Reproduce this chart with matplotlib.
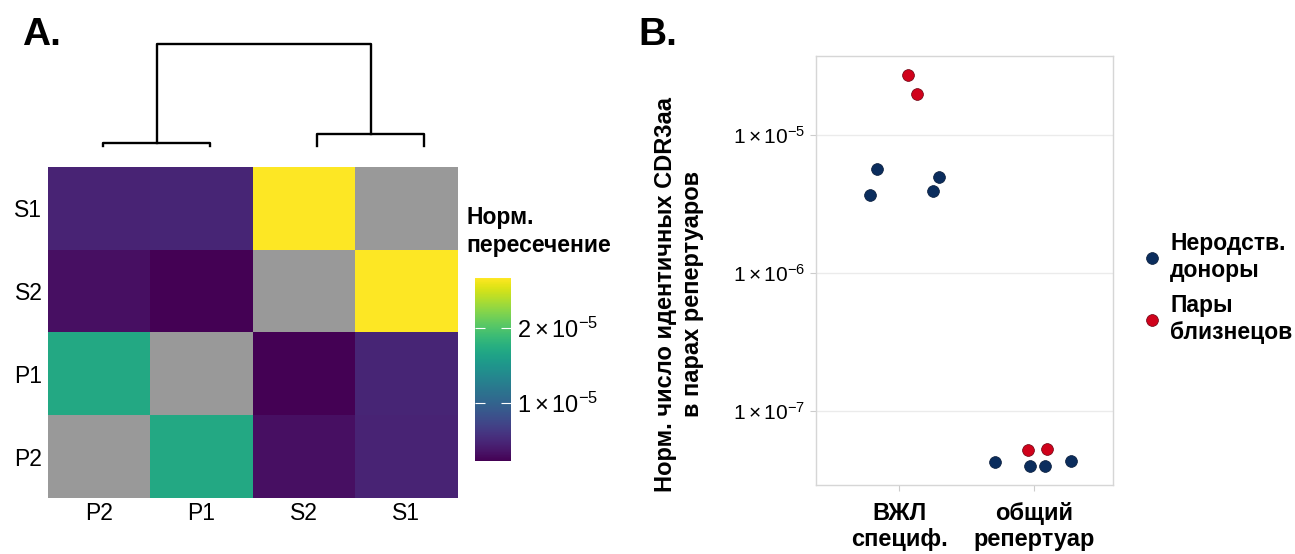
import numpy as np
import matplotlib
matplotlib.use('Agg')
import matplotlib.pyplot as plt
from matplotlib.lines import Line2D

plt.rcParams['font.family'] = ['Liberation Sans', 'DejaVu Sans']
plt.rcParams['mathtext.fontset'] = 'custom'
plt.rcParams['mathtext.rm'] = 'Liberation Sans'
plt.rcParams['mathtext.it'] = 'Liberation Sans:italic'

# ================ A: heatmap data ================
hm_cols = ['P2', 'P1', 'S2', 'S1']
hm_rows = ['S1', 'S2', 'P1', 'P2']
row_S1 = [4.70e-6, 4.80e-6, 2.67e-5, np.nan]
row_S2 = [3.25e-6, 2.27e-6, np.nan, 2.67e-5]
row_P1 = [1.70e-5, np.nan, 2.27e-6, 4.80e-6]
row_P2 = [np.nan, 1.70e-5, 3.25e-6, 4.70e-6]
cbar_ticks = [1e-5, 2e-5]
cbar_labels = [r'$1\times10^{-5}$', r'$2\times10^{-5}$']

# dendrogram merge heights (P-pair, S-pair, root)
h_pair_P = 3
h_pair_S = 12
h_root = 102

# ================ B: scatter data ================
categories = ['ВЖЛ\nспециф.', 'общий\nрепертуар']
vzhl_donors = [5.73e-6, 3.67e-6, 3.97e-6, 4.96e-6]
vzhl_donors_jit = [-0.163, -0.215, 0.252, 0.297]
vzhl_twins = [2.73e-5, 1.98e-5]
vzhl_twins_jit = [0.064, 0.133]
total_donors = [4.30e-8, 4.00e-8, 4.00e-8, 4.32e-8]
total_donors_jit = [-0.289, -0.030, 0.082, 0.274]
total_twins = [5.22e-8, 5.28e-8]
total_twins_jit = [-0.044, 0.096]

c_donor = '#0b2d5d'
c_twin = '#d0021b'

W, H = 1295, 554
fig = plt.figure(figsize=(W / 100, H / 100), dpi=100)

def px_axes(x0, y0, x1, y1):
    return fig.add_axes([x0 / W, 1 - y1 / H, (x1 - x0) / W, (y1 - y0) / H])

# ---- heatmap ----
ax_h = px_axes(48, 167, 457, 498)
mat = np.array([row_S1, row_S2, row_P1, row_P2])
cmap = plt.get_cmap('viridis').copy()
cmap.set_bad('#999999')
im = ax_h.imshow(np.ma.masked_invalid(mat), cmap=cmap, aspect='auto',
                 vmin=np.nanmin(mat), vmax=np.nanmax(mat), interpolation='nearest')
ax_h.set_xticks(range(4))
ax_h.set_xticklabels(hm_cols, fontsize=16.5)
ax_h.set_yticks(range(4))
ax_h.set_yticklabels(hm_rows, fontsize=16.5)
ax_h.tick_params(axis='x', length=0, pad=3)
ax_h.tick_params(axis='y', length=0, pad=4)
for s in ax_h.spines.values():
    s.set_visible(False)

# ---- dendrogram ----
ax_d = px_axes(49.5, 44, 477.5, 146)
ax_d.set_xlim(0, 4)
ax_d.set_ylim(0, h_root)
ax_d.axis('off')
lw = 1.7
ax_d.plot([0.5, 0.5, 1.5, 1.5], [0, h_pair_P, h_pair_P, 0], color='black', lw=lw, clip_on=False)
ax_d.plot([2.5, 2.5, 3.5, 3.5], [0, h_pair_S, h_pair_S, 0], color='black', lw=lw, clip_on=False)
ax_d.plot([1.0, 1.0, 3.0, 3.0], [h_pair_P, h_root, h_root, h_pair_S], color='black', lw=lw, clip_on=False)

# ---- colorbar ----
cax = px_axes(475, 278, 511, 461)
cb = fig.colorbar(im, cax=cax, ticks=cbar_ticks)
cb.set_ticklabels(cbar_labels)
cb.outline.set_visible(False)
cax.tick_params(axis='y', length=7, width=0.8, color='white', direction='in',
                labelsize=17, pad=4, right=True, left=True)
fig.text(466 / W, 1 - 252 / H, 'Норм.\nпересечение', fontsize=16.5, fontweight='bold',
         ha='left', va='baseline', linespacing=1.27)

# ---- panel B ----
ax_b = px_axes(816, 56, 1113, 485)
ax_b.set_yscale('log')
ax_b.set_ylim(2.91e-8, 3.76e-5)
ax_b.set_xlim(0.383, 2.585)
ax_b.scatter(np.add(1, vzhl_donors_jit), vzhl_donors, s=72, color=c_donor, edgecolor='#061a38', lw=0.5, zorder=3)
ax_b.scatter(np.add(1, vzhl_twins_jit), vzhl_twins, s=72, color=c_twin, edgecolor='#6a0010', lw=0.5, zorder=3)
ax_b.scatter(np.add(2, total_donors_jit), total_donors, s=72, color=c_donor, edgecolor='#061a38', lw=0.5, zorder=3)
ax_b.scatter(np.add(2, total_twins_jit), total_twins, s=72, color=c_twin, edgecolor='#6a0010', lw=0.5, zorder=3)
ax_b.set_yticks([1e-7, 1e-6, 1e-5])
ax_b.set_yticklabels([r'$1\times10^{-7}$', r'$1\times10^{-6}$', r'$1\times10^{-5}$'], fontsize=15)
ax_b.yaxis.set_minor_locator(matplotlib.ticker.NullLocator())
ax_b.set_xticks([1, 2])
ax_b.set_xticklabels(categories, fontsize=17, fontweight='bold', linespacing=1.2)
ax_b.tick_params(color='#cccccc', length=4, width=0.8, pad=4)
ax_b.tick_params(axis='x', pad=8)
ax_b.grid(axis='y', color='#ebebeb', lw=1)
ax_b.set_axisbelow(True)
for s in ax_b.spines.values():
    s.set_color('#d6d6d6')
    s.set_linewidth(1)
ax_b.set_ylabel('Норм. число идентичных CDR3aa\nв парах репертуаров', fontsize=17,
                fontweight='bold', linespacing=1.2)
ax_b.yaxis.set_label_coords(-0.377, 0.445)

handles = [Line2D([], [], ls='none', marker='o', ms=8.5, color=c_donor, mec='#061a38', mew=0.5),
           Line2D([], [], ls='none', marker='o', ms=8.5, color=c_twin, mec='#6a0010', mew=0.5)]
fig.legend(handles, ['Неродств.\nдоноры', 'Пары\nблизнецов'], loc='center left',
           bbox_to_anchor=(1136 / W, 1 - 288 / H), frameon=False,
           prop={'size': 16.5, 'weight': 'bold'}, handlelength=1.0, handletextpad=0.3,
           labelspacing=0.55, borderaxespad=0, borderpad=0.2)

fig.text(22 / W, 1 - 45 / H, 'A.', fontsize=28, fontweight='bold', va='baseline')
fig.text(638 / W, 1 - 45 / H, 'B.', fontsize=28, fontweight='bold', va='baseline')

fig.savefig('out.png', dpi=100)
